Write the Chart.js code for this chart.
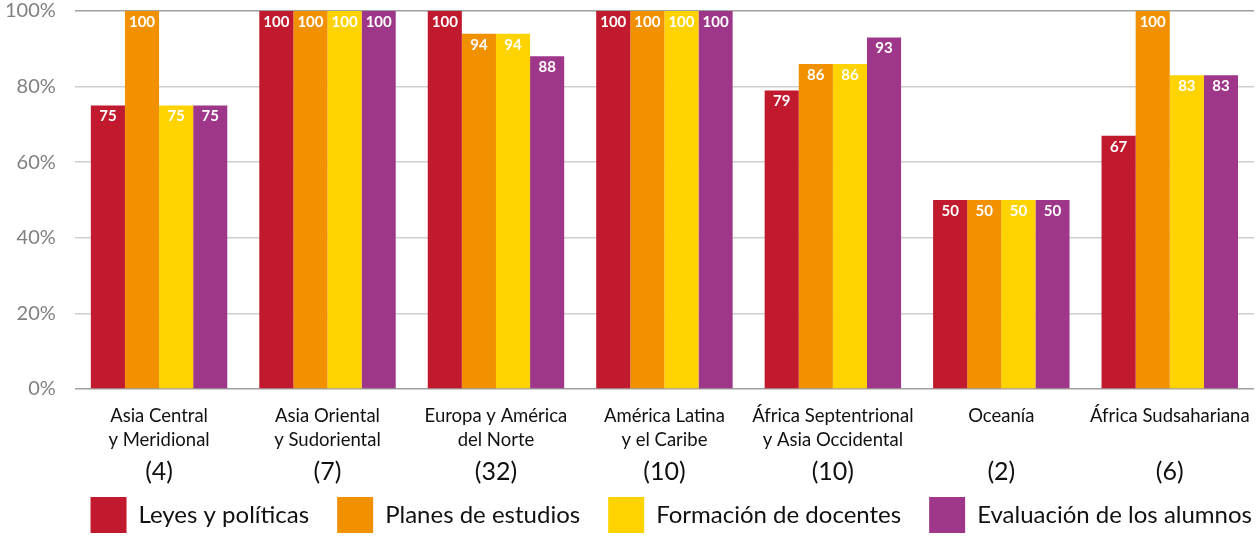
<!DOCTYPE html>
<html>
<head>
<meta charset="utf-8">
<script src="https://cdn.jsdelivr.net/npm/chart.js@4"></script>
<style>
  html, body { margin: 0; padding: 0; background: #fff; }
  #wrap { width: 1259px; height: 540px; }
</style>
</head>
<body>
<div id="wrap"><canvas id="regionChart"></canvas></div>
<script>
const regions = [
    ['Asia Central', 'y Meridional'],
    ['Asia Oriental', 'y Sudoriental'],
    ['Europa y América', 'del Norte'],
    ['América Latina', 'y el Caribe'],
    ['África Septentrional', 'y Asia Occidental'],
    ['Oceanía'],
    ['África Sudsahariana']
];
const counts = ['(4)', '(7)', '(32)', '(10)', '(10)', '(2)', '(6)'];

const leyes = [75, 100, 100, 100, 79, 50, 67];
const planes = [100, 100, 94, 100, 86, 50, 100];
const formacion = [75, 100, 94, 100, 86, 50, 83];
const evaluacion = [75, 100, 88, 100, 93, 50, 83];

const yTicks = [0, 20, 40, 60, 80, 100];

const FONT = 'Lato, "Noto Sans", sans-serif';

document.addEventListener('DOMContentLoaded', () => {
    const canvas = document.getElementById('regionChart');
    const ctx = canvas.getContext('2d');

    const makeSet = (label, data, color) => ({
        label: label,
        data: data,
        backgroundColor: color,
        borderWidth: 0,
        categoryPercentage: 0.81,
        barPercentage: 1.0
    });

    new Chart(ctx, {
        type: 'bar',
        data: {
            labels: regions,
            datasets: [
                makeSet('Leyes y políticas', leyes, '#C1192D'),
                makeSet('Planes de estudios', planes, '#F29100'),
                makeSet('Formación de docentes', formacion, '#FFD300'),
                makeSet('Evaluación de los alumnos', evaluacion, '#9E3789')
            ]
        },
        options: {
            responsive: true,
            maintainAspectRatio: false,
            animation: false,
            layout: {
                padding: { top: 0, right: 5, bottom: 0, left: 5 }
            },
            scales: {
                x: {
                    grid: { display: false },
                    border: { display: false },
                    ticks: {
                        padding: 7,
                        color: '#111',
                        font: { family: FONT, size: 18.5, lineHeight: 1.3 },
                        maxRotation: 0,
                        autoSkip: false
                    },
                    afterFit: (scale) => { scale.height = 77; }
                },
                y: {
                    min: 0,
                    max: 100,
                    afterBuildTicks: (scale) => {
                        scale.ticks = yTicks.map(v => ({ value: v }));
                    },
                    border: { display: false },
                    grid: {
                        drawTicks: true,
                        tickLength: 19,
                        tickColor: 'rgba(0,0,0,0)',
                        lineWidth: 1.5,
                        color: (c) => (c.tick && (c.tick.value === 100 || c.tick.value === 0)) ? '#a0a0a0' : '#cfcfcf'
                    },
                    ticks: {
                        padding: 0,
                        color: '#808080',
                        font: { family: FONT, size: 20, lineHeight: 1.1 },
                        callback: (value) => value + '%'
                    }
                }
            },
            plugins: {
                legend: {
                    position: 'bottom',
                    align: 'end',
                    labels: {
                        boxWidth: 36,
                        boxHeight: 36,
                        padding: 28,
                        color: '#111',
                        font: { family: FONT, size: 24 }
                    }
                },
                tooltip: { enabled: false }
            }
        },
        plugins: [{
            // nudge the legend row to where the original sits
            id: 'legendShift',
            afterLayout: (chart) => {
                const lg = chart.legend;
                if (!lg) return;
                lg.left += 26;
                lg.right += 26;
                lg.top += 3;
                lg.bottom += 3;
            }
        }, {
            id: 'barValues',
            afterDatasetsDraw: (chart) => {
                const c = chart.ctx;
                c.save();
                c.fillStyle = '#fff';
                c.font = 'bold 15px ' + FONT;
                c.textAlign = 'center';
                c.textBaseline = 'middle';
                chart.data.datasets.forEach((ds, di) => {
                    chart.getDatasetMeta(di).data.forEach((bar, i) => {
                        c.fillText(ds.data[i], bar.x, bar.y + 11);
                    });
                });
                c.restore();
            }
        }, {
            id: 'regionCounts',
            afterDraw: (chart) => {
                const c = chart.ctx;
                const xScale = chart.scales.x;
                c.save();
                c.fillStyle = '#111';
                c.font = '25px ' + FONT;
                c.textAlign = 'center';
                c.textBaseline = 'middle';
                counts.forEach((txt, i) => {
                    c.fillText(txt, xScale.getPixelForValue(i), xScale.top + 83);
                });
                c.restore();
            }
        }]
    });
});
</script>
</body>
</html>
